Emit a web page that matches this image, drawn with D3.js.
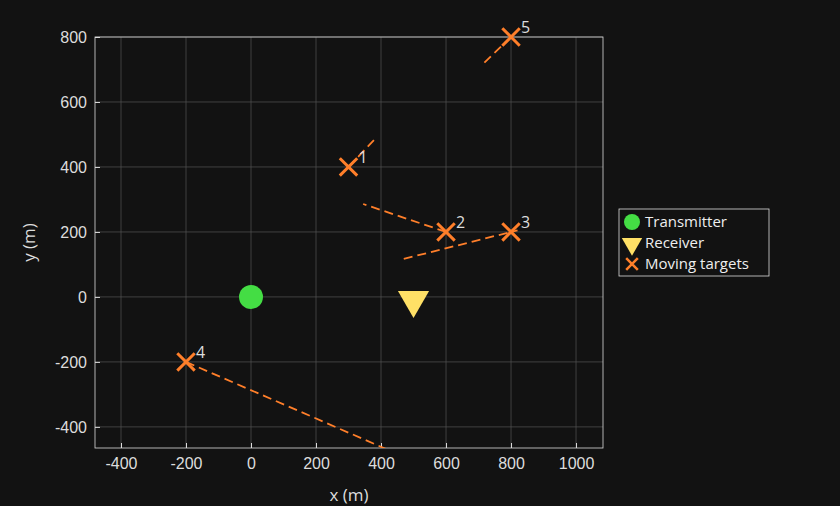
<!DOCTYPE html>
<html><head><meta charset="utf-8">
<script src="https://cdn.jsdelivr.net/npm/d3@7"></script>
<style>body{margin:0;background:#121212;}svg{font-family:"Open Sans",Roboto,sans-serif;}</style>
</head><body><div id="chart"></div>
<script>
// data
var targetX = [300, 600, 800, -200, 800],
    targetY = [400, 200, 200, -200, 800],
    targetLabels = ["1", "2", "3", "4", "5"];
// velocity trails: start and end of each dashed line
var trailX0 = [300, 600, 470, -200, 800],
    trailY0 = [400, 200, 117, -200, 800],
    trailX1 = [385, 345, 820, 420, 712],
    trailY1 = [490, 286, 205, -470, 715];
var transmitter = [0, 0], receiver = [500, 0];
var xTicks = [-400, -200, 0, 200, 400, 600, 800, 1000],
    yTicks = [-400, -200, 0, 200, 400, 600, 800];

var W = 840, H = 506,
    mLeft = 95, mRight = 603, mTop = 37, mBottom = 448;

var svg = d3.select("#chart").append("svg").attr("width", W).attr("height", H);
svg.append("rect").attr("width", W).attr("height", H).attr("fill", "#121212");

var x = d3.scaleLinear().domain([-480, 1083]).range([mLeft, mRight]);
var y = d3.scaleLinear().domain([-465, 800]).range([mBottom, mTop]);

// grid
var g = svg.append("g");
g.selectAll(".gx").data(xTicks).enter().append("line")
    .attr("x1", d => x(d)).attr("x2", d => x(d)).attr("y1", mTop).attr("y2", mBottom)
    .attr("stroke", "#555").attr("stroke-width", 0.7);
g.selectAll(".gy").data(yTicks).enter().append("line")
    .attr("y1", d => y(d)).attr("y2", d => y(d)).attr("x1", mLeft).attr("x2", mRight)
    .attr("stroke", "#555").attr("stroke-width", 0.7);

// axes
var xAxis = svg.append("g").attr("transform", "translate(0," + mBottom + ")")
    .call(d3.axisBottom(x).tickValues(xTicks).tickFormat(d => String(d)).tickSize(-5).tickPadding(10));
var yAxis = svg.append("g").attr("transform", "translate(" + mLeft + ",0)")
    .call(d3.axisLeft(y).tickValues(yTicks).tickFormat(d => String(d)).tickSize(-5).tickPadding(8));
[xAxis, yAxis].forEach(function(a) {
    a.selectAll("path").remove();
    a.selectAll("line").attr("stroke", "#ddd");
    a.selectAll("text").attr("fill", "#ddd").style("font-size", "16px");
});
svg.append("rect").attr("x", mLeft).attr("y", mTop).attr("width", mRight - mLeft).attr("height", mBottom - mTop)
    .attr("fill", "none").attr("stroke", "#ddd").attr("stroke-width", 0.8);
svg.append("text").attr("x", (mLeft + mRight) / 2).attr("y", 501).attr("text-anchor", "middle")
    .attr("fill", "#ddd").style("font-size", "17px").text("x (m)");
svg.append("text").attr("transform", "translate(35," + (mTop + mBottom) / 2 + ") rotate(-90)")
    .attr("text-anchor", "middle").attr("fill", "#ddd").style("font-size", "17px").text("y (m)");

// clipped plot content
svg.append("clipPath").attr("id", "clip").append("rect")
    .attr("x", mLeft).attr("y", mTop).attr("width", mRight - mLeft).attr("height", mBottom - mTop);
var p = svg.append("g").attr("clip-path", "url(#clip)");
var orange = "#ff7f2a";
p.selectAll(".trail").data(trailX0).enter().append("line")
    .attr("x1", (d, i) => x(trailX0[i])).attr("y1", (d, i) => y(trailY0[i]))
    .attr("x2", (d, i) => x(trailX1[i])).attr("y2", (d, i) => y(trailY1[i]))
    .attr("stroke", orange).attr("stroke-width", 1.8).attr("stroke-dasharray", "9,5");

var cross = d3.symbol().type(d3.symbolTimes).size(200);
svg.selectAll(".tgt").data(targetX).enter().append("path")
    .attr("d", cross)
    .attr("transform", (d, i) => "translate(" + x(targetX[i]) + "," + y(targetY[i]) + ")")
    .attr("fill", "none").attr("stroke", orange).attr("stroke-width", 3);
svg.selectAll(".lbl").data(targetLabels).enter().append("text")
    .attr("x", (d, i) => x(targetX[i]) + 10).attr("y", (d, i) => y(targetY[i]) - 4)
    .attr("fill", "#ddd").style("font-size", "16px").text(d => d);

svg.append("circle").attr("cx", x(transmitter[0])).attr("cy", y(transmitter[1])).attr("r", 12)
    .attr("fill", "#44dd44");
var tri = d3.symbol().type(d3.symbolTriangle).size(420);
svg.append("path").attr("d", tri)
    .attr("transform", "translate(" + x(receiver[0]) + "," + (y(receiver[1]) + 3) + ") rotate(180)")
    .attr("fill", "#ffe066");

// legend
var lg = svg.append("g").attr("transform", "translate(619,209)");
lg.append("rect").attr("width", 150).attr("height", 67).attr("fill", "#121212")
    .attr("stroke", "#ddd").attr("stroke-width", 0.8);
var items = ["Transmitter", "Receiver", "Moving targets"];
items.forEach(function(t, i) {
    var cy = 13 + i * 21;
    if (i === 0) lg.append("circle").attr("cx", 13).attr("cy", cy).attr("r", 8).attr("fill", "#44dd44");
    if (i === 1) lg.append("path").attr("d", d3.symbol().type(d3.symbolTriangle).size(180))
        .attr("transform", "translate(13," + (cy + 1) + ") rotate(180)").attr("fill", "#ffe066");
    if (i === 2) lg.append("path").attr("d", d3.symbol().type(d3.symbolTimes).size(90))
        .attr("transform", "translate(13," + cy + ")").attr("fill", "none").attr("stroke", orange).attr("stroke-width", 2.5);
    lg.append("text").attr("x", 26).attr("y", cy + 5).attr("fill", "#eee").style("font-size", "15px").text(t);
});
</script></body></html>
